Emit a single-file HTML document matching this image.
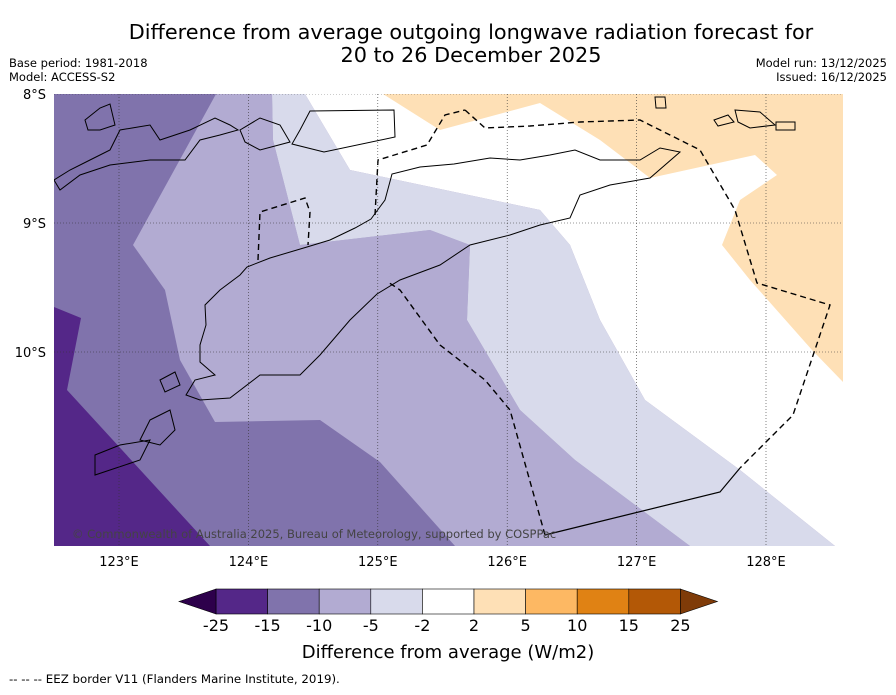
<!DOCTYPE html>
<html><head><meta charset="utf-8"><style>
body{margin:0;background:#fff;font-family:"Liberation Sans","DejaVu Sans",sans-serif;}
svg text{font-family:"DejaVu Sans","Liberation Sans",sans-serif;}
</style></head><body>
<svg id="chart" width="896" height="690" xmlns="http://www.w3.org/2000/svg">
<text x="471" y="39" font-size="20.8" text-anchor="middle">Difference from average outgoing longwave radiation forecast for</text>
<text x="471" y="62" font-size="20.8" text-anchor="middle">20 to 26 December 2025</text>
<text x="9" y="67" font-size="11.5">Base period: 1981-2018</text>
<text x="9" y="81" font-size="11.5">Model: ACCESS-S2</text>
<text x="887" y="67" font-size="11.5" text-anchor="end">Model run: 13/12/2025</text>
<text x="887" y="81" font-size="11.5" text-anchor="end">Issued: 16/12/2025</text>
<defs><clipPath id="mc"><rect x="54" y="94" width="789" height="452"/></clipPath></defs>
<g clip-path="url(#mc)">
<rect x="54" y="94" width="789" height="452" fill="#8073ac"/>
<polygon fill="#b2abd2" points="216,94 272,94 273,140 300,245 430,230 470,245 467,320 520,410 575,460 690,546 455,546 380,462 320,420 215,422 180,360 165,290 133,245"/>
<polygon fill="#d8daeb" points="272,94 305,94 350,170 540,210 570,245 600,320 645,400 740,470 835,546 690,546 575,460 520,410 467,320 470,245 430,230 300,245 273,140"/>
<polygon fill="#ffffff" points="305,94 843,94 843,546 835,546 740,470 645,400 600,320 570,245 540,210 350,170"/>
<polygon fill="#fee0b6" points="383,94 843,94 843,382 812,350 750,280 722,245 740,200 777,175 755,155 650,178 600,140 540,103 440,130"/>
<polygon fill="#542788" points="54,307 81,318 67,390 210,546 54,546"/>
<g stroke="#000" stroke-width="1" fill="none">
<polygon points="186,395 195,380 215,375 200,362 200,345 206,325 205,305 220,290 240,275 247,267 270,258 307,247 330,240 355,228 371,219 385,200 392,174 420,167 454,164 490,158 520,160 550,155 575,150 600,160 640,160 660,148 680,152 650,178 610,185 580,195 570,218 540,225 510,235 470,245 440,265 400,280 377,294 350,320 320,355 300,375 260,375 230,398 200,400"/>
<polygon points="310,111 394,110 395,137 324,152 292,144 300,130"/>
<polygon points="54,180 70,170 90,160 110,150 120,130 150,125 160,140 190,130 215,118 230,125 238,130 220,135 200,140 185,160 150,160 110,165 80,175 60,190"/>
<polygon points="85,120 100,108 110,104 115,125 100,130 88,130"/>
<polygon points="240,130 260,118 280,125 290,142 260,150 245,142"/>
<polygon points="735,110 760,112 775,125 750,128 738,122"/>
<polygon points="776,122 795,122 795,130 776,130"/>
<polygon points="655,97 665,97 666,108 656,108"/>
<polygon points="714,120 728,115 734,122 718,126"/>
<polygon points="160,380 175,372 180,385 165,392"/>
<polygon points="150,420 170,410 175,430 160,445 140,440"/>
<polygon points="95,455 120,445 150,440 140,460 110,470 95,475"/>
</g>
<g stroke="#000" stroke-width="1.4" fill="none" stroke-dasharray="6,4">
<polyline points="465,110 485,128 530,126 580,122 640,120 700,150 735,210 757,283 830,305 793,415 740,468"/>
<polyline points="545,535 510,410 485,380 440,345 400,290 388,282"/>
<polyline points="258,260 260,212 305,198 310,212 308,245"/>
<polyline points="375,215 378,160 427,145 445,115 465,110"/>
</g>
<polyline points="545,535 720,492 740,468" stroke="#000" stroke-width="1.2" fill="none"/>
<g id="grid" stroke="#333" stroke-width="0.6" stroke-dasharray="1,2"></g>
<text x="72" y="538" font-size="11.5" fill="#444">© Commonwealth of Australia 2025, Bureau of Meteorology, supported by COSPPac</text>
</g>
<g id="axes" font-size="13"></g>
<g id="cbar"></g>
<text x="448" y="658" font-size="18" text-anchor="middle">Difference from average (W/m2)</text>
<text x="9" y="683" font-size="11.8">--  --  -- EEZ border V11 (Flanders Marine Institute, 2019).</text>
</svg>
<script>
const lonTicks=[123,124,125,126,127,128];
const latTicks=[8,9,10];
const cbLevels=["-25","-15","-10","-5","-2","2","5","10","15","25"];
const cbColors=["#542788","#8073ac","#b2abd2","#d8daeb","#ffffff","#fee0b6","#fdb863","#e08214","#b35806"];
const cbUnder="#2d004b", cbOver="#7f3b08";
const NS="http://www.w3.org/2000/svg";
const xLon=l=>119+(l-123)*129.4;
const yLat=l=>94+(l-8)*129;
const grid=document.getElementById('grid'), axes=document.getElementById('axes'), cb=document.getElementById('cbar');
function mk(tag,attrs,parent){const e=document.createElementNS(NS,tag);for(const k in attrs)e.setAttribute(k,attrs[k]);parent.appendChild(e);return e;}
lonTicks.forEach(l=>{
 const ln=mk('line',{x1:xLon(l),x2:xLon(l),y1:94,y2:546},grid);
 
 
 const t=mk('text',{x:xLon(l),y:566,'text-anchor':'middle'},axes);t.textContent=l+'°E';
 
 
});
latTicks.forEach(l=>{
 const ln=mk('line',{x1:54,x2:843,y1:yLat(l),y2:yLat(l)},grid);
 
 
 const t=mk('text',{x:46,y:yLat(l)+5,'text-anchor':'end'},axes);t.textContent=l+'°S';
 
 
});
const x0=216,w=51.6,y0=589,h=25;
const cx=i=>x0+i*w;
cbColors.forEach((c,i)=>{
 const r=mk('rect',{x:cx(i),y:y0,width:w,height:h,fill:c,stroke:'#000','stroke-width':0.6},cb);
 
 
});
const tu=mk('polygon',{points:`179,${y0+h/2} ${x0},${y0} ${x0},${y0+h}`,fill:cbUnder,stroke:'#000','stroke-width':0.6},cb);


const xe=cx(cbColors.length);
const to=mk('polygon',{points:`${xe},${y0} ${xe+37},${y0+h/2} ${xe},${y0+h}`,fill:cbOver,stroke:'#000','stroke-width':0.6},cb);


cbLevels.forEach((v,i)=>{
 const t=mk('text',{x:cx(i),y:631,'font-size':16,'text-anchor':'middle'},cb);t.textContent=v;
 
 
});
</script>
</body></html>
